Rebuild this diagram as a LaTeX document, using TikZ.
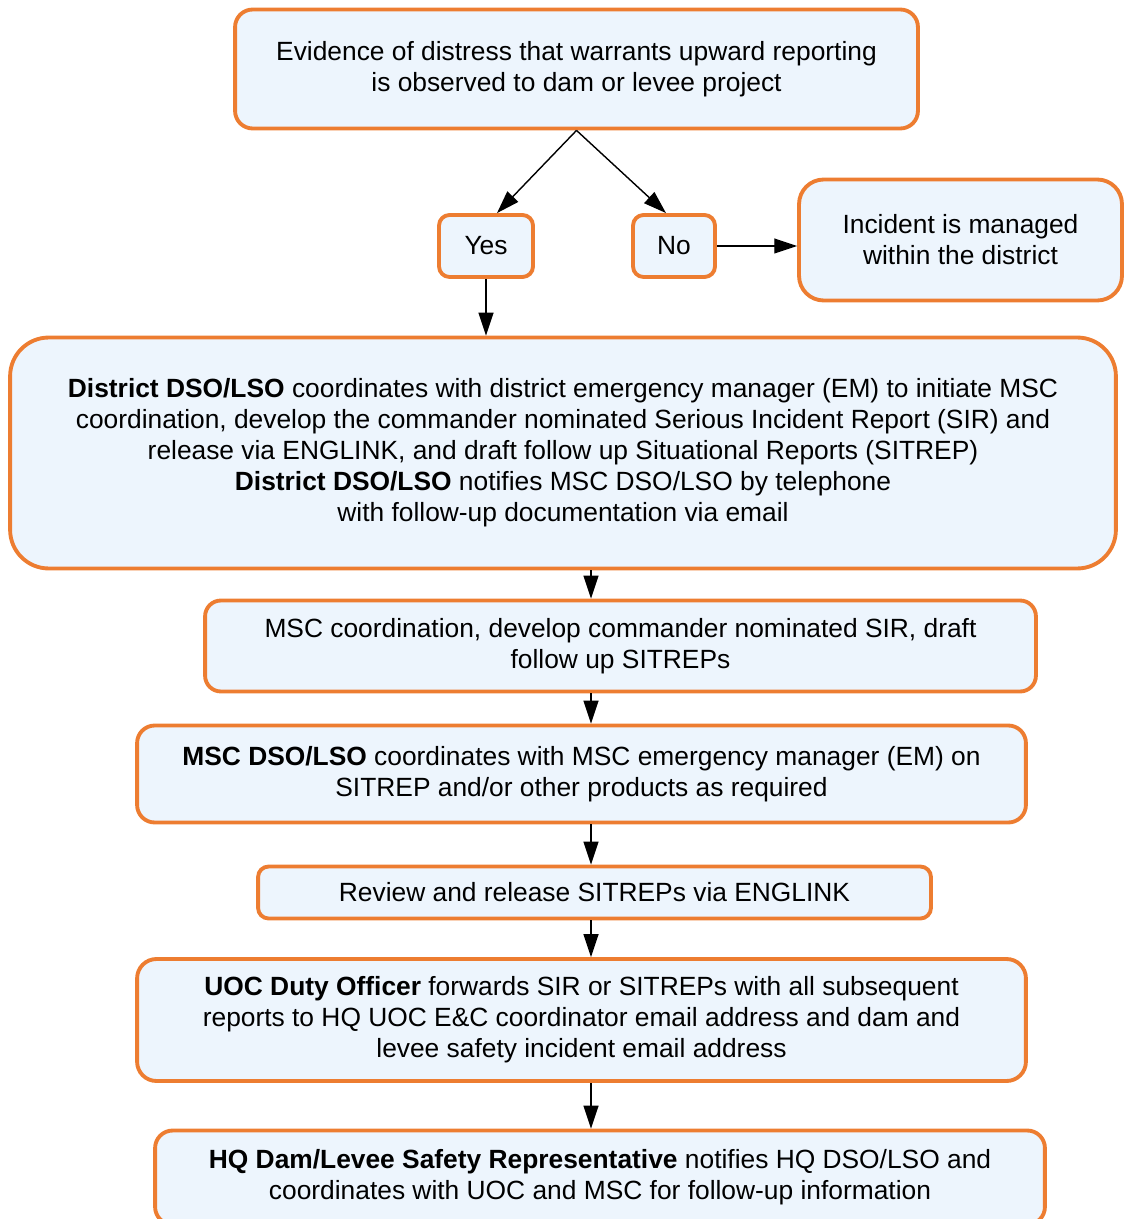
\documentclass[tikz,border=0pt]{standalone}
\usepackage{fontspec}
\setmainfont{Liberation Sans}
\usetikzlibrary{arrows.meta}

\begin{document}
\begin{tikzpicture}[x=0.02cm,y=-0.02cm,
  box/.style={draw=boxcolor,fill=fillcolor,line width=2.2pt,rounded corners=#1,
    align=center,inner sep=0pt,font=\fontsize{15}{17.6}\selectfont},
  box/.default=8pt,
  flow/.style={line width=0.8pt,linecolor,-{Triangle[length=13pt,width=8.5pt]}}]
\definecolor{boxcolor}{RGB}{237,125,49}
\definecolor{fillcolor}{RGB}{237,245,253}
\definecolor{linecolor}{RGB}{0,0,0}
\useasboundingbox (0,0) rectangle (1125,1219);
\node (observed) at (576.5,69) [box=10pt,minimum width=13.66cm,minimum height=2.38cm]
  {Evidence of distress that warrants upward reporting\\is observed to dam or levee project};
\node (yes) at (486,246) [box=6pt,minimum width=1.88cm,minimum height=1.24cm] {Yes};
\node (no) at (674,246) [box=6pt,minimum width=1.64cm,minimum height=1.24cm] {No};
\node (managed) at (960.5,240) [box=14pt,minimum width=6.46cm,minimum height=2.42cm]
  {Incident is managed\\within the district};
\node (district) at (563,453) [box=22pt,minimum width=22.12cm,minimum height=4.62cm]
  {\textbf{District DSO/LSO} coordinates with district emergency manager (EM) to initiate MSC\\
   coordination, develop the commander nominated Serious Incident Report (SIR) and\\
   release via ENGLINK, and draft follow up Situational Reports (SITREP)\\
   \textbf{District DSO/LSO} notifies MSC DSO/LSO by telephone\\
   with follow-up documentation via email};
\node (msccoord) at (620.5,646) [box=9pt,minimum width=16.62cm,minimum height=1.82cm]
  {MSC coordination, develop commander nominated SIR, draft\\follow up SITREPs};
\node (mscdso) at (581.5,774) [box=10pt,minimum width=17.78cm,minimum height=1.94cm]
  {\textbf{MSC DSO/LSO} coordinates with MSC emergency manager (EM) on\\
   SITREP and/or other products as required};
\node (review) at (594.5,892.5) [box=6pt,minimum width=13.46cm,minimum height=1.04cm]
  {Review and release SITREPs via ENGLINK};
\node (uoc) at (581.5,1020) [box=11pt,minimum width=17.78cm,minimum height=2.44cm]
  {\textbf{UOC Duty Officer} forwards SIR or SITREPs with all subsequent\\
   reports to HQ UOC E\&C coordinator email address and dam and\\
   levee safety incident email address};
\node (hq) at (600,1177.5) [box=10pt,minimum width=17.8cm,minimum height=1.88cm]
  {\textbf{HQ Dam/Levee Safety Representative} notifies HQ DSO/LSO and\\
   coordinates with UOC and MSC for follow-up information};
\coordinate (spine) at (591,0);
\draw (observed.south) [flow] -- ([xshift=0.22cm]yes.north);
\draw (observed.south) [flow] -- ([xshift=-0.16cm]no.north);
\draw (yes.south) [flow] -- (yes.south |- district.north);
\draw (no.east) [flow] -- (managed.west |- no.east);
\draw (district.south -| spine) [flow] -- (msccoord.north -| spine);
\draw (msccoord.south -| spine) [flow] -- (mscdso.north -| spine);
\draw (mscdso.south -| spine) [flow] -- (review.north -| spine);
\draw (review.south -| spine) [flow] -- (uoc.north -| spine);
\draw (uoc.south -| spine) [flow] -- (hq.north -| spine);
\end{tikzpicture}
\end{document}
